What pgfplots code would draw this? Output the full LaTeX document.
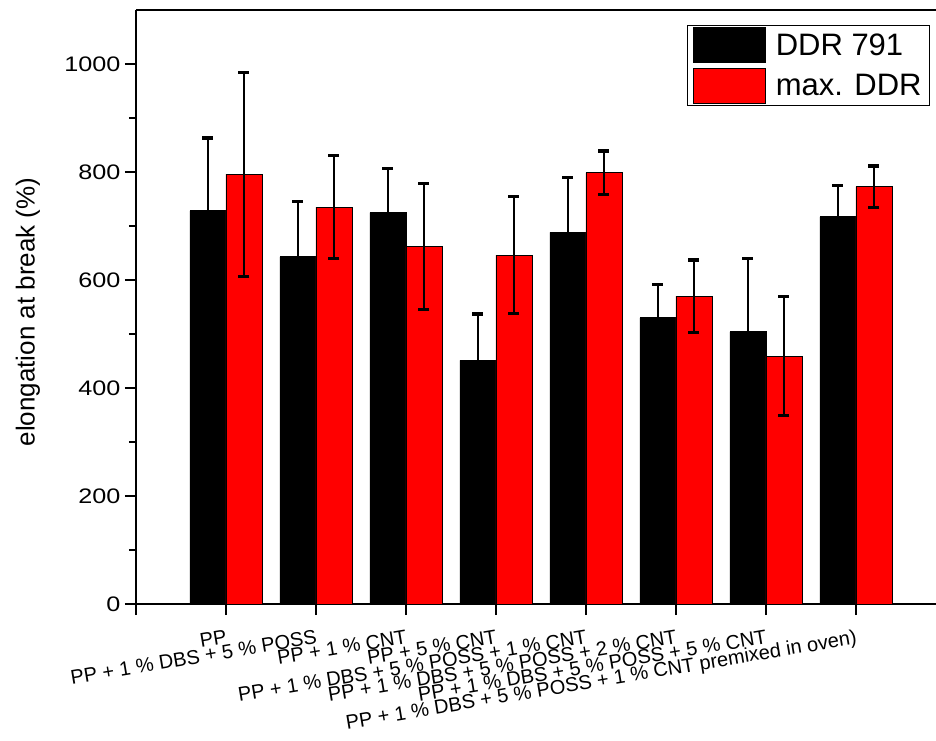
\documentclass[border=0pt]{standalone}
\usepackage{fontspec}
\setmainfont{Liberation Sans}
\newfontfamily\tickfont[FakeStretch=1.2]{Liberation Sans}
\usepackage{pgfplots}
\usepackage{pgfplotstable}
\pgfplotsset{compat=1.18}
\pgfplotstableread{
x y e
1 728 135
2 643 103
3 725 82
4 451 86
5 688 102
6 530 61
7 504 136
8 717 58
}\ddrA
\pgfplotstableread{
x y e
1 796 189
2 735 95
3 662 116
4 646 108
5 799 40
6 570 67
7 459 110
8 773 38
}\ddrB
\begin{document}
\begin{tikzpicture}
\begin{axis}[
  scale only axis, width=800pt, height=594pt,
  xmin=0, xmax=8.89, ymin=0, ymax=1100,
  ybar=0pt, bar width=0.4,
  axis x line=box, axis y line=left,
  axis line style={-, line width=1.8pt},
  xtick={0,...,8},
  xticklabels={{},PP,PP + 1 \% DBS + 5 \% POSS,PP + 1 \% CNT,PP + 5 \% CNT,PP + 1 \% DBS + 5 \% POSS + 1 \% CNT,PP + 1 \% DBS + 5 \% POSS + 2 \% CNT,PP + 1 \% DBS + 5 \% POSS + 5 \% CNT,PP + 1 \% DBS + 5 \% POSS + 1 \% CNT premixed in oven)},
  xtick pos=left, ytick pos=left,
  ytick={0,200,...,1000}, minor y tick num=1,
  tick align=outside, major tick length=11pt, minor tick length=7pt,
  every tick/.style={black, line width=1.8pt},
  /pgf/number format/assume math mode=true,
  /pgf/number format/1000 sep={},
  yticklabel={\pgfmathprintnumber[assume math mode=true,1000 sep={}]{\tick}},
  yticklabel style={font=\tickfont\fontsize{21}{25}\selectfont, xshift=-1pt},
  xticklabel style={font=\fontsize{20}{24}\selectfont, rotate=9.5, anchor=north east, inner sep=1pt, yshift=-13pt, xshift=-2pt},
  ylabel={elongation at break (\%)},
  every axis y label/.style={at={(axis description cs:0,0.5)}, xshift=-108pt, yshift=-5pt, rotate=90, anchor=center, font=\fontsize{26}{30}\selectfont},
  legend style={at={(0.9925,0.974)}, anchor=north east, draw=black, line width=0.8pt, font=\fontsize{31}{35}\selectfont, inner xsep=6pt, inner ysep=1.5pt, row sep=5pt, column sep=8pt, cells={anchor=west}},
  legend image code/.code={\draw[#1, line width=0.8pt] (0pt,-17.5pt) rectangle (72pt,17.5pt);},
]
\addplot[fill=black, draw=black, line width=0.8pt,
  error bars/y dir=both, error bars/y explicit,
  error bars/error bar style={line width=2.6pt, black},
  error bars/error mark options={rotate=90, mark size=5.5pt, line width=3.2pt, black}]
  table[x=x, y=y, y error=e]{\ddrA};
\addlegendentry{DDR 791}
\addplot[fill=red, draw=black, line width=0.8pt,
  error bars/y dir=both, error bars/y explicit,
  error bars/error bar style={line width=2.6pt, black},
  error bars/error mark options={rotate=90, mark size=5.5pt, line width=3.2pt, black}]
  table[x=x, y=y, y error=e]{\ddrB};
\addlegendentry{max. DDR}
\end{axis}
\pgfresetboundingbox
\path[use as bounding box] (-136pt,-136pt) rectangle (800pt,604pt);
\end{tikzpicture}
\end{document}
